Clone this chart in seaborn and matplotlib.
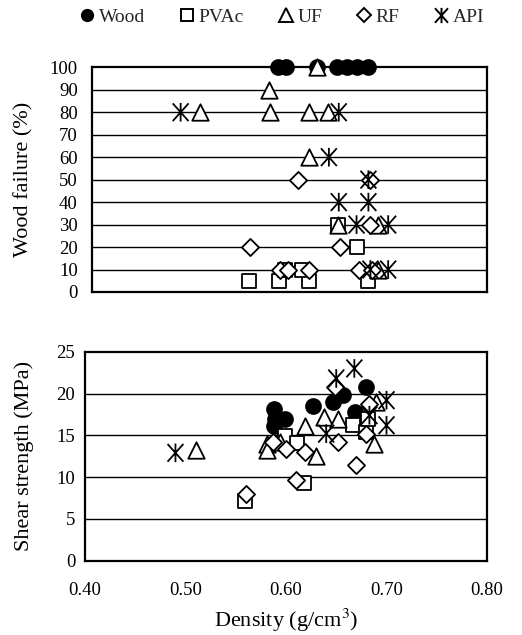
import numpy as np
import pandas as pd
import matplotlib
matplotlib.use("Agg")
import matplotlib.pyplot as plt
import matplotlib.path as mpath
from matplotlib.lines import Line2D
import seaborn as sns

sns.set_theme(style="white")
plt.rcParams['font.family'] = ['Liberation Serif', 'DejaVu Serif']
plt.rcParams['mathtext.fontset'] = 'stix'

series = ["Wood", "PVAc", "UF", "RF", "API"]

# ---- Wood failure (%) vs density ----
wf_wood_x = [0.589, 0.597, 0.628, 0.648, 0.658, 0.668, 0.680]
wf_wood_y = [100, 100, 100, 100, 100, 100, 100]
wf_pvac_x = [0.559, 0.590, 0.620, 0.680, 0.596, 0.613, 0.649, 0.668]
wf_pvac_y = [5, 5, 5, 5, 10, 10, 30, 20]
wf_uf_x = [0.510, 0.579, 0.580, 0.620, 0.639, 0.628, 0.620, 0.649, 0.690, 0.690]
wf_uf_y = [80, 90, 80, 80, 80, 100, 60, 30, 30, 10]
wf_rf_x = [0.609, 0.682, 0.682, 0.560, 0.651, 0.591, 0.599, 0.620, 0.670, 0.684]
wf_rf_y = [50, 50, 30, 20, 20, 10, 10, 10, 10, 10]
wf_api_x = [0.490, 0.650, 0.640, 0.680, 0.650, 0.680, 0.668, 0.700, 0.682, 0.700]
wf_api_y = [80, 80, 60, 50, 40, 40, 30, 30, 10, 10]

# ---- Shear strength (MPa) vs density ----
ss_wood_x = [0.588, 0.589, 0.588, 0.599, 0.627, 0.647, 0.657, 0.669, 0.680, 0.678]
ss_wood_y = [18.2, 17.0, 16.1, 16.9, 18.5, 19.0, 19.8, 17.8, 20.8, 16.6]
ss_pvac_x = [0.559, 0.599, 0.611, 0.618, 0.667, 0.680, 0.682]
ss_pvac_y = [7.1, 14.9, 14.1, 9.3, 16.2, 15.4, 17.0]
ss_uf_x = [0.510, 0.581, 0.581, 0.594, 0.619, 0.630, 0.638, 0.652, 0.690, 0.688]
ss_uf_y = [13.3, 14.0, 13.2, 14.2, 16.1, 12.5, 17.2, 16.9, 19.0, 14.0]
ss_rf_x = [0.560, 0.587, 0.600, 0.610, 0.619, 0.649, 0.652, 0.670, 0.680, 0.683]
ss_rf_y = [8.0, 14.2, 13.4, 9.7, 13.0, 20.8, 14.2, 11.5, 15.2, 18.8]
ss_api_x = [0.490, 0.640, 0.650, 0.668, 0.683, 0.700, 0.700]
ss_api_y = [12.9, 15.2, 21.8, 23.0, 17.4, 19.2, 16.2]

x_ticks = [0.40, 0.50, 0.60, 0.70, 0.80]
wf_ticks = list(range(0, 101, 10))
ss_ticks = [0, 5, 10, 15, 20, 25]


def frame(xs, ys):
    rows = []
    for name, x, y in zip(series, xs, ys):
        for a, b in zip(x, y):
            rows.append({"Density": a, "Value": b, "Adhesive": name})
    return pd.DataFrame(rows)


wf_df = frame([wf_wood_x, wf_pvac_x, wf_uf_x, wf_rf_x, wf_api_x],
              [wf_wood_y, wf_pvac_y, wf_uf_y, wf_rf_y, wf_api_y])
ss_df = frame([ss_wood_x, ss_pvac_x, ss_uf_x, ss_rf_x, ss_api_x],
              [ss_wood_y, ss_pvac_y, ss_uf_y, ss_rf_y, ss_api_y])

asterisk = mpath.Path(
    [(0, -1), (0, 1), (-0.85, -0.95), (0.85, 0.95), (-0.85, 0.95), (0.85, -0.95)],
    [mpath.Path.MOVETO, mpath.Path.LINETO, mpath.Path.MOVETO, mpath.Path.LINETO,
     mpath.Path.MOVETO, mpath.Path.LINETO])

style = {
    "Wood": dict(marker="o", s=115, fc="black"),
    "PVAc": dict(marker="s", s=110, fc="white"),
    "UF": dict(marker="^", s=140, fc="white"),
    "RF": dict(marker="D", s=76, fc="white"),
    "API": dict(marker=asterisk, s=180, fc="none"),
}

W, H = 522, 635
fig = plt.figure(figsize=(W / 100, H / 100), dpi=100)
ax1 = fig.add_axes([91.7 / W, 1 - 292 / H, (487 - 91.7) / W, (292 - 67.3) / H])
ax2 = fig.add_axes([85 / W, 1 - 560.7 / H, (487 - 85) / W, (560.7 - 351.7) / H])


def draw(ax, df):
    for name in series:
        st = style[name]
        sub = df[df["Adhesive"] == name]
        sns.scatterplot(data=sub, x="Density", y="Value", ax=ax,
                        marker=st["marker"], s=st["s"], facecolor=st["fc"],
                        edgecolor="black", linewidth=1.3, clip_on=False,
                        zorder=3, legend=False)


draw(ax1, wf_df)
draw(ax2, ss_df)

for ax in (ax1, ax2):
    ax.set_xlim(0.40, 0.80)
    for sp in ax.spines.values():
        sp.set_color("black")
        sp.set_linewidth(1.6)
    ax.grid(False)
    ax.set_facecolor("white")

ax1.set_ylim(0, 100)
ax1.set_yticks(wf_ticks)
for t in wf_ticks[1:-1]:
    ax1.axhline(t, color="black", lw=1.0, zorder=1)
ax1.set_xticks([])
ax1.set_xlabel("")
ax1.tick_params(axis="y", length=0, pad=10, labelsize=13.5, colors="black")
ax1.set_ylabel("Wood failure (%)", fontsize=16, color="black")
ax1.yaxis.set_label_coords(-0.148, 0.5)

ax2.set_ylim(0, 25)
ax2.set_yticks(ss_ticks)
for t in ss_ticks[1:-1]:
    ax2.axhline(t, color="black", lw=1.0, zorder=1)
ax2.set_xticks(x_ticks)
ax2.set_xticklabels([f"{v:.2f}" for v in x_ticks])
ax2.tick_params(axis="x", direction="in", length=5, width=1.0, pad=15,
                labelsize=13.5, colors="black")
ax2.tick_params(axis="y", length=0, pad=7, labelsize=13.5, colors="black")
ax2.set_ylabel("Shear strength (MPa)", fontsize=16, color="black")
ax2.yaxis.set_label_coords(-0.128, 0.5)
ax2.set_xlabel("Density (g/cm$^{3}$)", fontsize=16, color="black", labelpad=6)

handles = [
    Line2D([], [], ls="none", marker="o", ms=8.5, mfc="black", mec="black"),
    Line2D([], [], ls="none", marker="s", ms=8.5, mfc="white", mec="black", mew=1.4),
    Line2D([], [], ls="none", marker="^", ms=9.5, mfc="white", mec="black", mew=1.4),
    Line2D([], [], ls="none", marker="D", ms=7, mfc="white", mec="black", mew=1.4),
    Line2D([], [], ls="none", marker=asterisk, ms=11, mfc="none", mec="black", mew=1.4),
]
fig.legend(handles, series, ncol=5, loc="center", bbox_to_anchor=(281 / W, 1 - 17 / H),
           frameon=False, handletextpad=0.1, columnspacing=1.65, handlelength=1.0,
           fontsize=14)

fig.savefig("out.png", dpi=100, facecolor="white")
